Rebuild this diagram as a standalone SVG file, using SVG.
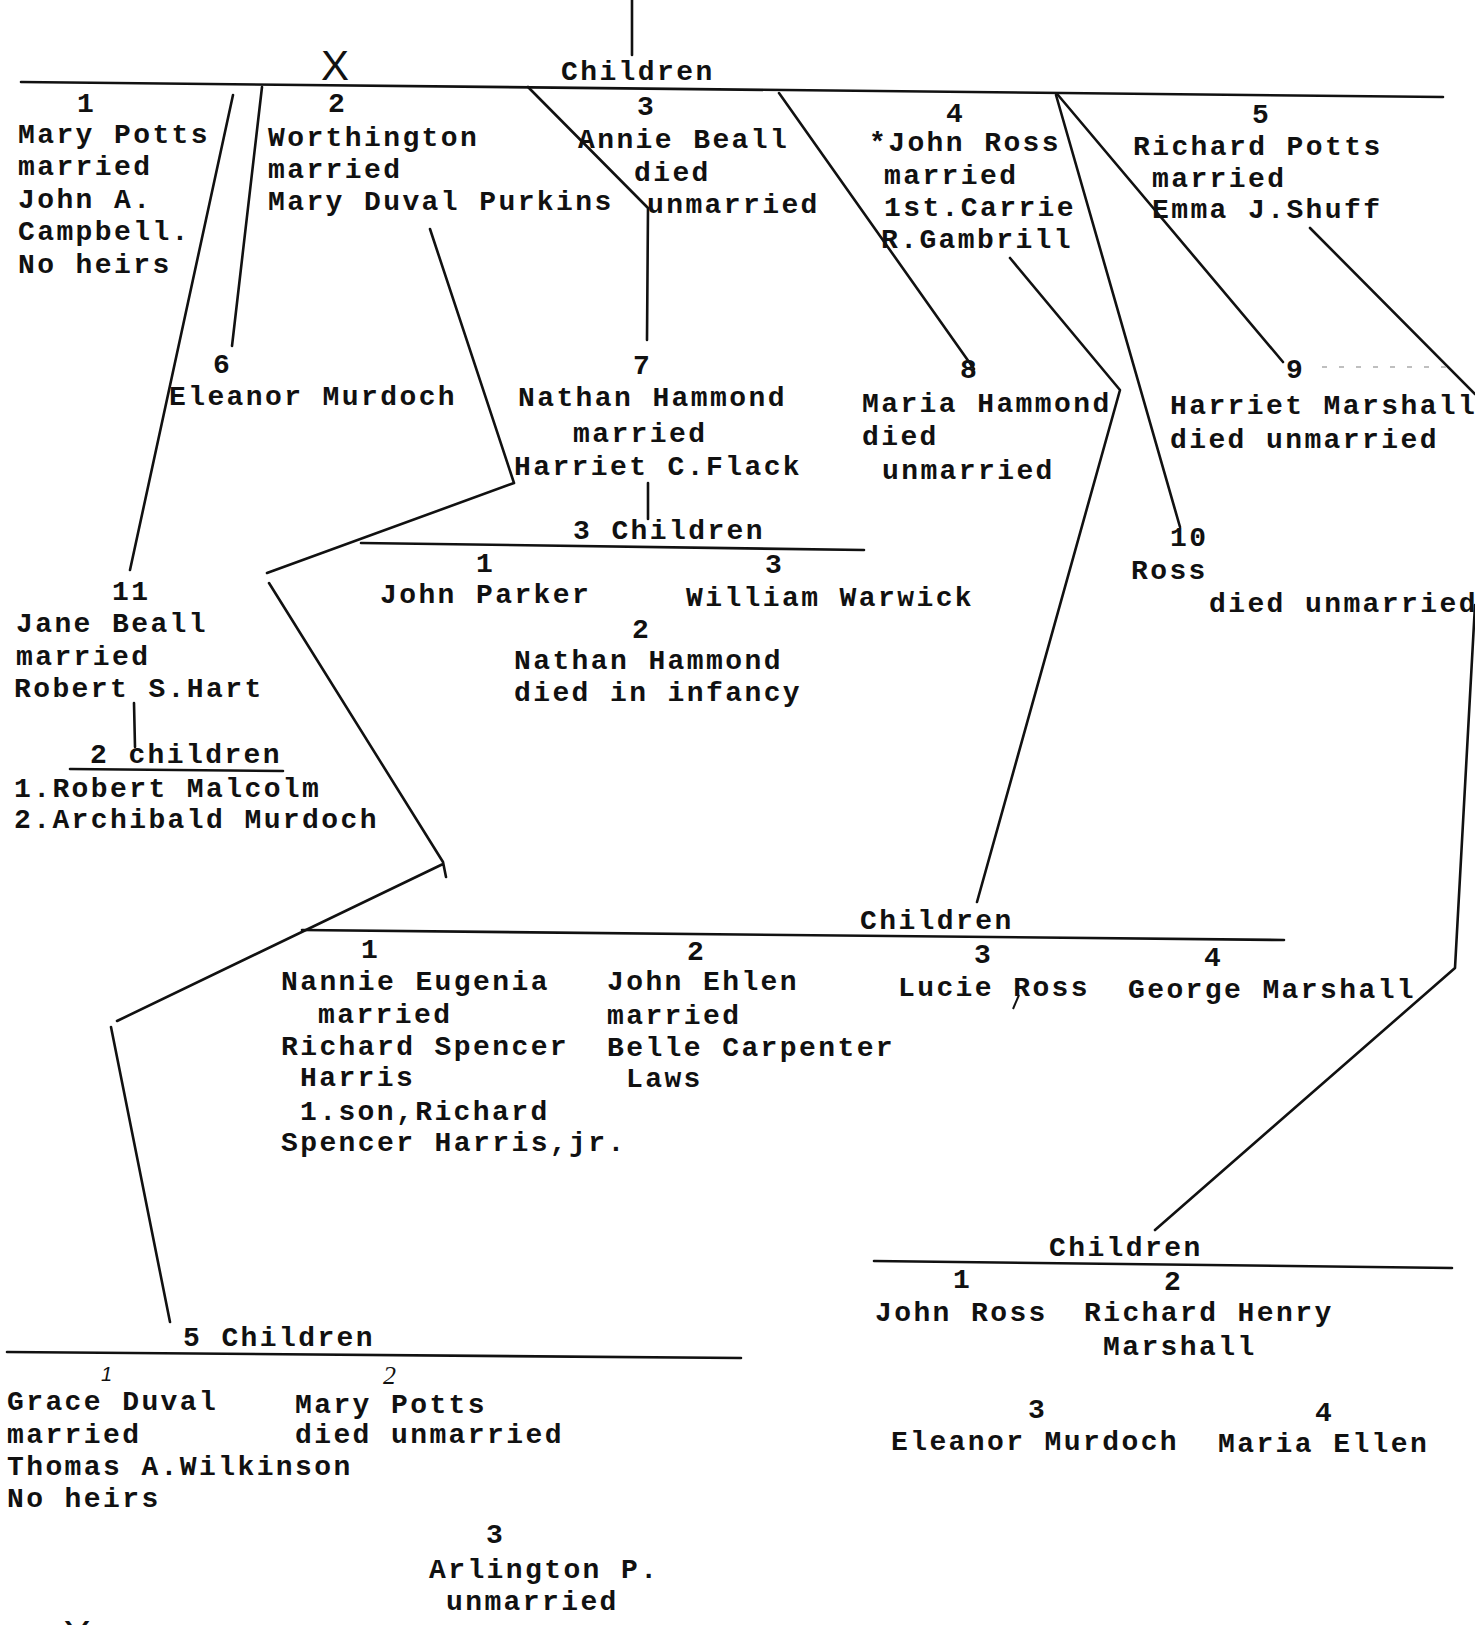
<svg xmlns="http://www.w3.org/2000/svg" width="1475" height="1625" viewBox="0 0 1475 1625">
<style>
.t{font-family:"Liberation Mono","DejaVu Sans Mono",monospace;font-size:28px;letter-spacing:2.4px;fill:#111;font-weight:bold}
.c{stroke:#111;stroke-width:2.6;fill:none;stroke-linecap:round;stroke-linejoin:round}
.h{font-family:"Liberation Sans",sans-serif;fill:#111}
</style>
<rect width="1475" height="1625" fill="#fff"/>
<g id="connectors">
<path class="c" d="M632,0 L632,55"/>
<path class="c" d="M21,82 L1443,97"/>
<path class="c" d="M233,95 L130,570"/>
<path class="c" d="M262,87 L232,346"/>
<path class="c" d="M528,87 L648,208 L647,340"/>
<path class="c" d="M430,229 L514,483 L267,573"/>
<path class="c" d="M269,583 L443,862 L446,877 M443,864 L117,1021"/>
<path class="c" d="M111,1027 L170,1322"/>
<path class="c" d="M779,93 L974,369"/>
<path class="c" d="M1010,258 L1120,390 L977,902"/>
<path class="c" d="M1056,95 L1180,527"/>
<path class="c" d="M1058,95 L1283,362"/>
<path class="c" d="M1310,228 L1475,394"/>
<path class="c" d="M1475,605 L1455,968 L1155,1230"/>
<path class="c" d="M648,483 L648,519"/>
<path class="c" d="M361,543 L864,550"/>
<path class="c" d="M134,703 L135,747"/>
<path class="c" d="M70,769 L283,771"/>
<path class="c" d="M302,930 L1284,940"/>
<path class="c" d="M7,1352 L741,1358"/>
<path class="c" d="M874,1261 L1452,1268"/>
<path d="M1322,367 L1446,367" stroke="#aaa" stroke-width="1.5" stroke-dasharray="5 12" fill="none"/>
</g>
<g id="top-mark">
<text class="h" x="335" y="80" font-size="42" text-anchor="middle">X</text>
<text class="t" x="561" y="80">Children</text>
</g>
<g id="n1"><text class="t" x="77" y="112">1</text><text class="t" x="18" y="143">Mary Potts</text><text class="t" x="18" y="175">married</text><text class="t" x="18" y="208">John A.</text><text class="t" x="18" y="240">Campbell.</text><text class="t" x="18" y="273">No heirs</text></g>
<g id="n2"><text class="t" x="328" y="112">2</text><text class="t" x="268" y="146">Worthington</text><text class="t" x="268" y="178">married</text><text class="t" x="268" y="210">Mary Duval Purkins</text></g>
<g id="n3"><text class="t" x="637" y="115">3</text><text class="t" x="578" y="148">Annie Beall</text><text class="t" x="634" y="181">died</text><text class="t" x="647" y="213">unmarried</text></g>
<g id="n4"><text class="t" x="946" y="122">4</text><text class="t" x="869" y="151">*John Ross</text><text class="t" x="884" y="184">married</text><text class="t" x="884" y="216">1st.Carrie</text><text class="t" x="881" y="248">R.Gambrill</text></g>
<g id="n5"><text class="t" x="1252" y="123">5</text><text class="t" x="1133" y="155">Richard Potts</text><text class="t" x="1152" y="187">married</text><text class="t" x="1152" y="218">Emma J.Shuff</text></g>
<g id="n6"><text class="t" x="213" y="373">6</text><text class="t" x="169" y="405">Eleanor Murdoch</text></g>
<g id="n7"><text class="t" x="633" y="374">7</text><text class="t" x="518" y="406">Nathan Hammond</text><text class="t" x="573" y="442">married</text><text class="t" x="514" y="475">Harriet C.Flack</text></g>
<g id="n7-children"><text class="t" x="573" y="539">3 Children</text>
<text class="t" x="476" y="572">1</text><text class="t" x="380" y="603">John Parker</text>
<text class="t" x="765" y="573">3</text><text class="t" x="686" y="606">William Warwick</text>
<text class="t" x="632" y="638">2</text><text class="t" x="514" y="669">Nathan Hammond</text><text class="t" x="514" y="701">died in infancy</text></g>
<g id="n8"><text class="t" x="960" y="378">8</text><text class="t" x="862" y="412">Maria Hammond</text><text class="t" x="862" y="445">died</text><text class="t" x="882" y="479">unmarried</text></g>
<g id="n9"><text class="t" x="1286" y="378">9</text><text class="t" x="1170" y="414">Harriet Marshall</text><text class="t" x="1170" y="448">died unmarried</text></g>
<g id="n10"><text class="t" x="1170" y="546">10</text><text class="t" x="1131" y="579">Ross</text><text class="t" x="1209" y="612">died unmarried</text></g>
<g id="n11"><text class="t" x="112" y="600">11</text><text class="t" x="16" y="632">Jane Beall</text><text class="t" x="16" y="665">married</text><text class="t" x="14" y="697">Robert S.Hart</text>
<text class="t" x="90" y="763">2 children</text><text class="t" x="14" y="797">1.Robert Malcolm</text><text class="t" x="14" y="828">2.Archibald Murdoch</text></g>
<g id="ross-children"><text class="t" x="860" y="929">Children</text>
<text class="t" x="361" y="958">1</text><text class="t" x="281" y="990">Nannie Eugenia</text><text class="t" x="318" y="1023">married</text><text class="t" x="281" y="1055">Richard Spencer</text><text class="t" x="300" y="1086">Harris</text><text class="t" x="300" y="1120">1.son,Richard</text><text class="t" x="281" y="1151">Spencer Harris,jr.</text>
<text class="t" x="687" y="960">2</text><text class="t" x="607" y="990">John Ehlen</text><text class="t" x="607" y="1024">married</text><text class="t" x="607" y="1056">Belle Carpenter</text><text class="t" x="626" y="1087">Laws</text>
<text class="t" x="974" y="963">3</text><text class="t" x="898" y="996">Lucie Ross</text><path d="M1019,995 L1013,1009" stroke="#111" stroke-width="2" fill="none"/>
<text class="t" x="1204" y="966">4</text><text class="t" x="1128" y="998">George Marshall</text></g>
<g id="worthington-children"><text class="t" x="183" y="1346">5 Children</text>
<text class="h" x="101" y="1381" font-size="20" font-style="italic">1</text><text class="t" x="7" y="1410">Grace Duval</text><text class="t" x="7" y="1443">married</text><text class="t" x="7" y="1475">Thomas A.Wilkinson</text><text class="t" x="7" y="1507">No heirs</text>
<text x="383" y="1384" font-family="Liberation Serif,serif" font-style="italic" font-size="26" fill="#111">2</text><text class="t" x="295" y="1413">Mary Potts</text><text class="t" x="295" y="1443">died unmarried</text>
<text class="t" x="486" y="1543">3</text><text class="t" x="429" y="1578">Arlington P.</text><text class="t" x="446" y="1610">unmarried</text>
<text class="h" x="77" y="1650" font-size="42" text-anchor="middle">X</text></g>
<g id="richard-children"><text class="t" x="1049" y="1256">Children</text>
<text class="t" x="953" y="1288">1</text><text class="t" x="875" y="1321">John Ross</text>
<text class="t" x="1164" y="1290">2</text><text class="t" x="1084" y="1321">Richard Henry</text><text class="t" x="1103" y="1355">Marshall</text>
<text class="t" x="1028" y="1418">3</text><text class="t" x="891" y="1450">Eleanor Murdoch</text>
<text class="t" x="1315" y="1421">4</text><text class="t" x="1218" y="1452">Maria Ellen</text></g>
</svg>
